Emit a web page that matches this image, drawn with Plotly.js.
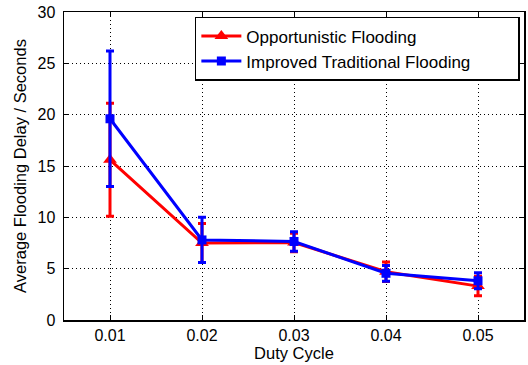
<!DOCTYPE html>
<html><head><meta charset="utf-8">
<script src="https://cdn.plot.ly/plotly-3.0.1.min.js"></script>
<style>html,body{margin:0;padding:0;background:#fff}#c{width:528px;height:365px}</style>
</head><body><div id="c"></div>
<script>
const dutyCycle = [0.01, 0.02, 0.03, 0.04, 0.05];
const oppDelay = [15.6, 7.5, 7.55, 4.7, 3.3];
const oppErr = [5.5, 1.9, 0.9, 0.95, 0.95];
const tradDelay = [19.6, 7.8, 7.65, 4.55, 3.82];
const tradErr = [6.6, 2.2, 0.95, 0.77, 0.78];
const xTicks = [0.01, 0.02, 0.03, 0.04, 0.05];
const xTickText = ['0.01', '0.02', '0.03', '0.04', '0.05'];
const yTicks = [0, 5, 10, 15, 20, 25, 30];
const seriesNames = ['Opportunistic Flooding', 'Improved Traditional Flooding'];

const pad = '\u00a0'.repeat(9);
const font = {family: 'Liberation Sans, Arial, sans-serif', color: '#000'};
const traces = [
  {x: dutyCycle, y: oppDelay, name: seriesNames[0] + pad, type: 'scatter', mode: 'lines+markers',
   line: {color: '#ff0000', width: 3}, marker: {symbol: 'triangle-up', size: 12, color: '#ff0000'},
   error_y: {type: 'data', array: oppErr, visible: true, color: '#ff0000', thickness: 3, width: 4}},
  {x: dutyCycle, y: tradDelay, name: seriesNames[1] + pad, type: 'scatter', mode: 'lines+markers',
   line: {color: '#0000ff', width: 3}, marker: {symbol: 'square', size: 9, color: '#0000ff'},
   error_y: {type: 'data', array: tradErr, visible: true, color: '#0000ff', thickness: 3, width: 4}}
];
const axisCommon = {showline: true, linecolor: '#000', linewidth: 1.5, mirror: 'ticks', ticks: 'inside', ticklen: 5,
  tickcolor: '#000', showgrid: true, gridcolor: '#000', griddash: '1px,3px', gridwidth: 1, zeroline: false,
  tickfont: Object.assign({size: 16}, font)};
const layout = {
  width: 528, height: 365, margin: {l: 64, r: 4, t: 12, b: 45},
  paper_bgcolor: '#fff', plot_bgcolor: '#fff', font: font,
  showlegend: true,
  legend: {x: 0.991, y: 0.984, xanchor: 'right', yanchor: 'top', bordercolor: '#000', borderwidth: 1.5,
    bgcolor: '#fff', font: Object.assign({size: 17}, font), tracegroupgap: 0, itemwidth: 40},
  xaxis: Object.assign({}, axisCommon, {range: [0.005, 0.055], tickvals: xTicks, ticktext: xTickText,
    title: {text: 'Duty Cycle', font: Object.assign({size: 16.5}, font), standoff: 0}}),
  yaxis: Object.assign({}, axisCommon, {range: [0, 30], tickvals: yTicks, ticklabelstandoff: 4,
    title: {text: 'Average Flooding Delay / Seconds', font: Object.assign({size: 16.5}, font), standoff: 6}})
};
Plotly.newPlot('c', traces, layout, {displayModeBar: false, staticPlot: true});
</script></body></html>
